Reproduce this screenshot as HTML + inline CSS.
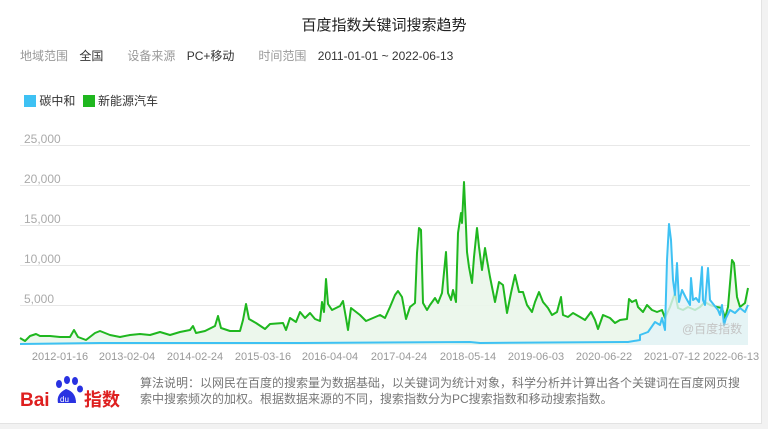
<!DOCTYPE html>
<html><head><meta charset="utf-8"><style>
body{margin:0;width:768px;height:429px;background:#f2f2f2;font-family:"Liberation Sans","Noto Sans CJK SC",sans-serif;position:relative;overflow:hidden}
.card{position:absolute;left:0;top:0;width:761px;height:423px;background:#fff;border-right:1px solid #e3e3e3;border-bottom:1px solid #e3e3e3}
.t{position:absolute;white-space:nowrap}
</style></head><body>
<div class="card"></div>
<div class="t" style="left:0;width:768px;text-align:center;top:14px;font-size:15px;color:#222">百度指数关键词搜索趋势</div>
<div class="t" style="left:20px;top:47px;font-size:12px;color:#999">地域范围 <span style="color:#333;margin-left:8px">全国</span><span style="margin-left:24px">设备来源</span> <span style="color:#333;margin-left:8px">PC+移动</span><span style="margin-left:24px">时间范围</span> <span style="color:#333;margin-left:8px">2011-01-01 ~ 2022-06-13</span></div>
<div class="t" style="left:24px;top:92px;font-size:12px;color:#333"><span style="display:inline-block;width:12px;height:12px;background:#3ec1f3;vertical-align:-2px"></span> 碳中和 <span style="display:inline-block;width:12px;height:12px;background:#1fb71f;vertical-align:-2px;margin-left:4px"></span> 新能源汽车</div>
<svg width="768" height="429" style="position:absolute;left:0;top:0">
<g stroke="#e8e8e8" stroke-width="1">
<line x1="20" x2="750" y1="145.5" y2="145.5"/><line x1="20" x2="750" y1="185.5" y2="185.5"/><line x1="20" x2="750" y1="225.5" y2="225.5"/><line x1="20" x2="750" y1="265.5" y2="265.5"/><line x1="20" x2="750" y1="305.5" y2="305.5"/>
</g>
<g font-size="12" fill="#aaa" font-family="Liberation Sans,sans-serif">
<text x="24" y="143">25,000</text><text x="24" y="183">20,000</text><text x="24" y="223">15,000</text><text x="24" y="263">10,000</text><text x="24" y="303">5,000</text>
</g>
<polygon fill="#eaf6ea" opacity="0.9" points="20,345 20,338 25,341 30,336 36,334 40,336 50,336 60,337 70,337 74,330 78,337 86,340 95,333 100,331 110,335 120,337 130,335 140,334 150,335 160,332 170,335 180,332 190,330 193,326 196,333 205,331 215,326 218,316 221,328 230,331 240,331 243,320 246,304 249,319 256,323 265,329 270,324 283,323 286,330 290,318 296,322 300,312 305,318 310,313 315,319 320,321 322,302 324,312 326,279 328,304 332,310 340,306 343,301 346,318 348,330 351,308 360,315 366,321 380,315 385,318 390,307 395,295 398,291 402,297 406,319 410,307 415,303 417,253 419,228 421,230 423,303 427,310 430,305 435,298 438,303 442,293 446,252 448,293 451,300 453,290 456,302 458,233 461,213 462,223 464,182 466,227 467,252 469,267 472,283 474,257 477,228 479,247 482,270 485,248 487,260 490,277 495,302 499,282 503,285 507,313 511,293 515,275 519,292 523,292 527,305 532,312 535,302 539,292 543,302 548,308 552,315 557,312 561,297 563,315 568,317 573,313 580,317 585,320 591,312 595,320 598,329 603,315 610,318 615,323 620,320 627,319 629,299 632,302 636,300 638,307 643,312 647,305 652,310 657,312 662,310 665,318 670,307 675,293 678,308 683,310 688,307 695,310 700,307 705,302 710,305 717,307 722,308 725,318 728,307 732,260 734,263 737,297 740,307 745,303 748,288 748,345"/>
<polyline fill="none" stroke="#1fb71f" stroke-width="2" stroke-linejoin="round" points="20,338 25,341 30,336 36,334 40,336 50,336 60,337 70,337 74,330 78,337 86,340 95,333 100,331 110,335 120,337 130,335 140,334 150,335 160,332 170,335 180,332 190,330 193,326 196,333 205,331 215,326 218,316 221,328 230,331 240,331 243,320 246,304 249,319 256,323 265,329 270,324 283,323 286,330 290,318 296,322 300,312 305,318 310,313 315,319 320,321 322,302 324,312 326,279 328,304 332,310 340,306 343,301 346,318 348,330 351,308 360,315 366,321 380,315 385,318 390,307 395,295 398,291 402,297 406,319 410,307 415,303 417,253 419,228 421,230 423,303 427,310 430,305 435,298 438,303 442,293 446,252 448,293 451,300 453,290 456,302 458,233 461,213 462,223 464,182 466,227 467,252 469,267 472,283 474,257 477,228 479,247 482,270 485,248 487,260 490,277 495,302 499,282 503,285 507,313 511,293 515,275 519,292 523,292 527,305 532,312 535,302 539,292 543,302 548,308 552,315 557,312 561,297 563,315 568,317 573,313 580,317 585,320 591,312 595,320 598,329 603,315 610,318 615,323 620,320 627,319 629,299 632,302 636,300 638,307 643,312 647,305 652,310 657,312 662,310 665,318 670,307 675,293 678,308 683,310 688,307 695,310 700,307 705,302 710,305 717,307 722,308 725,318 728,307 732,260 734,263 737,297 740,307 745,303 748,288"/>
<polygon fill="#e3f3f8" opacity="0.8" points="625,345 628,342 640,340 640,335 648,332 655,322 660,325 662,318 665,330 667,260 669,224 671,240 673,280 675,295 677,263 679,302 682,290 686,298 690,305 691,278 693,300 696,298 699,302 702,267 703,300 705,305 708,268 710,300 714,305 718,310 720,315 722,305 724,325 726,318 730,310 735,313 740,308 745,312 748,305 748,345"/>
<polyline fill="none" stroke="#3ec1f3" stroke-width="2" stroke-linejoin="round" points="20,344 100,343 200,343 300,343 470,342 480,343 625,342 628,342 640,340 640,335 648,332 655,322 660,325 662,318 665,330 667,260 669,224 671,240 673,280 675,295 677,263 679,302 682,290 686,298 690,305 691,278 693,300 696,298 699,302 702,267 703,300 705,305 708,268 710,300 714,305 718,310 720,315 722,305 724,325 726,318 730,310 735,313 740,308 745,312 748,305"/>
<text x="682" y="333" font-size="12" fill="#c4c4c4" font-family="Liberation Sans,Noto Sans CJK SC,sans-serif">@百度指数</text>
<g font-size="11" fill="#999" font-family="Liberation Sans,sans-serif" text-anchor="middle">
<text x="60" y="360">2012-01-16</text><text x="127" y="360">2013-02-04</text><text x="195" y="360">2014-02-24</text><text x="263" y="360">2015-03-16</text><text x="330" y="360">2016-04-04</text><text x="399" y="360">2017-04-24</text><text x="468" y="360">2018-05-14</text><text x="536" y="360">2019-06-03</text><text x="604" y="360">2020-06-22</text><text x="672" y="360">2021-07-12</text><text x="731" y="360">2022-06-13</text>
</g>
<g fill="#2932e1"><ellipse cx="59" cy="384" rx="3" ry="4"/><ellipse cx="67" cy="380" rx="3" ry="4"/><ellipse cx="75" cy="381" rx="3" ry="4"/><ellipse cx="80" cy="389" rx="3" ry="3.5"/><path d="M58,403 Q56,394 66,389 Q76,392 76,403 Z"/></g>
<text x="20" y="406" font-size="19" font-weight="bold" fill="#de1f1f" font-family="Liberation Sans,sans-serif">Bai</text>
<text x="60" y="402" font-size="8" fill="#fff" font-family="Liberation Sans,sans-serif">du</text>
<text x="84" y="406" font-size="18" font-weight="bold" fill="#de1f1f" font-family="Noto Sans CJK SC,sans-serif">指数</text>
</svg>
<div class="t" style="left:140px;top:375px;font-size:12px;color:#777;line-height:16px">算法说明：以网民在百度的搜索量为数据基础，以关键词为统计对象，科学分析并计算出各个关键词在百度网页搜<br>索中搜索频次的加权。根据数据来源的不同，搜索指数分为PC搜索指数和移动搜索指数。</div>
</body></html>
